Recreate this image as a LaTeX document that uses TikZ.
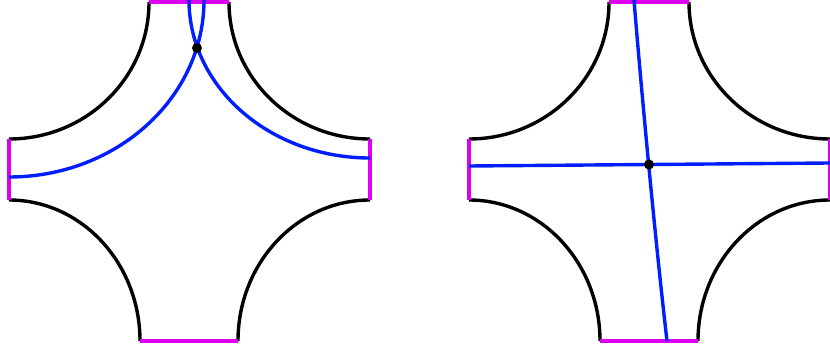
\documentclass[tikz,border=0pt]{standalone}
\usepackage{xcolor}
\definecolor{cutmagenta}{RGB}{221, 0, 240}
\definecolor{curveblue}{RGB}{0, 30, 255}

\begin{document}
\begin{tikzpicture}[
    x=1pt,
    y=1pt,
    edge/.style={
        draw=black,
        line width=3.4pt
    },
    cut/.style={
        draw=cutmagenta,
        line width=3.4pt
    },
    curve/.style={
        draw=curveblue,
        line width=3.4pt
    },
    dot/.style={
        circle,
        fill=black,
        inner sep=0pt,
        minimum size=10pt
    }
]

\useasboundingbox (0,0) rectangle (830,351);

% =================================================
% PIECE 1 - TWO CURVES MEETING NEAR THE TOP
% =================================================

% Corners of the cuts
\coordinate (tl1) at (149,349);
\coordinate (tr1) at (229,349);
\coordinate (lt1) at (9,212);
\coordinate (lb1) at (9,151);
\coordinate (bl1) at (140,10);
\coordinate (br1) at (238,10);
\coordinate (rb1) at (370,151);
\coordinate (rt1) at (370,212);

% Boundary arcs
\draw[edge] (tl1) arc[start angle=0, end angle=-90, x radius=140, y radius=137];
\draw[edge] (lb1) arc[start angle=90, end angle=0, x radius=131, y radius=141];
\draw[edge] (br1) arc[start angle=180, end angle=90, x radius=132, y radius=141];
\draw[edge] (rt1) arc[start angle=-90, end angle=-180, x radius=141, y radius=137];

% Cuts
\draw[cut] (tl1) -- (tr1);
\draw[cut] (lt1) -- (lb1);
\draw[cut] (bl1) -- (br1);
\draw[cut] (rb1) -- (rt1);

% Curves
\coordinate (ca1) at (9,174);
\coordinate (cb1) at (370,193);

\draw[curve] (ca1) arc[start angle=-90, end angle=0, x radius=195, y radius=177];
\draw[curve] (cb1) arc[start angle=-90, end angle=-180, x radius=181, y radius=158];

\node[dot] (meet1) at (197,303) {};


% =================================================
% PIECE 2 - TWO CURVES CROSSING IN THE MIDDLE
% =================================================

% Corners of the cuts
\coordinate (tl2) at (609,349);
\coordinate (tr2) at (689,349);
\coordinate (lt2) at (469,212);
\coordinate (lb2) at (469,151);
\coordinate (bl2) at (600,10);
\coordinate (br2) at (698,10);
\coordinate (rb2) at (830,151);
\coordinate (rt2) at (830,212);

% Boundary arcs
\draw[edge] (tl2) arc[start angle=0, end angle=-90, x radius=140, y radius=137];
\draw[edge] (lb2) arc[start angle=90, end angle=0, x radius=131, y radius=141];
\draw[edge] (br2) arc[start angle=180, end angle=90, x radius=132, y radius=141];
\draw[edge] (rt2) arc[start angle=-90, end angle=-180, x radius=141, y radius=137];

% Cuts
\draw[cut] (tl2) -- (tr2);
\draw[cut] (lt2) -- (lb2);
\draw[cut] (bl2) -- (br2);
\draw[cut] (rb2) -- (rt2);

% Curves
\coordinate (west2) at (469,185);
\coordinate (east2) at (830,188);
\coordinate (north2) at (634,351);
\coordinate (south2) at (667,10);

\draw[curve] (west2) -- (east2);
\draw[curve] (north2) .. controls (641,265) and (655,113) .. (south2);

\node[dot] (meet2) at (649,186.5) {};

\end{tikzpicture}
\end{document}
